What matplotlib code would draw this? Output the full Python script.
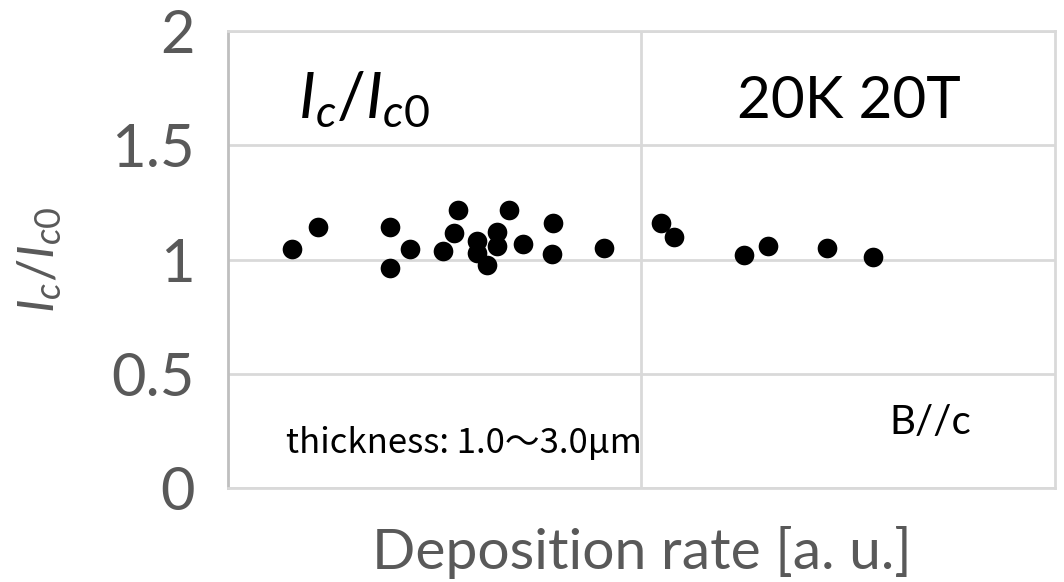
import matplotlib
matplotlib.use("Agg")
import matplotlib.pyplot as plt

# Ic/Ic0 at 20 K, 20 T vs deposition rate
dep_rate = [0.154, 0.217, 0.392, 0.392, 0.440, 0.521, 0.556, 0.547, 0.601, 0.601,
            0.627, 0.650, 0.651, 0.680, 0.713, 0.787, 0.784, 0.909, 1.047, 1.079,
            1.249, 1.307, 1.449, 1.561]
ic_ratio = [1.044, 1.142, 1.142, 0.961, 1.044, 1.039, 1.216, 1.117, 1.080, 1.029,
            0.978, 1.120, 1.057, 1.216, 1.069, 1.158, 1.026, 1.051, 1.158, 1.100,
            1.018, 1.058, 1.051, 1.012]
y_ticks = [0, 0.5, 1, 1.5, 2]
y_ticklabels = ["0", "0.5", "1", "1.5", "2"]

plt.rcParams['font.family'] = ['Lato', 'DejaVu Sans']
plt.rcParams['mathtext.fontset'] = 'custom'
plt.rcParams['mathtext.rm'] = 'Lato'
plt.rcParams['mathtext.it'] = 'Lato:italic'

grid_col = '#d9d9d9'
text_gray = '#595959'

fig = plt.figure(figsize=(10.64, 5.82), dpi=100)
ax = fig.add_axes([0.2143, 0.1615, 0.7772, 0.7852])

ax.scatter(dep_rate, ic_ratio, s=200, color='black', zorder=3, linewidths=0)

ax.set_xlim(0, 2)
ax.set_ylim(0, 2)
ax.set_xticks([1])
ax.set_xticklabels([])
ax.set_yticks(y_ticks)
ax.set_yticklabels(y_ticklabels, fontsize=43, color=text_gray)
ax.tick_params(axis='both', length=0)
ax.tick_params(axis='y', pad=24)
ax.grid(True, color=grid_col, linewidth=2)
for sp in ax.spines.values():
    sp.set_color(grid_col)
    sp.set_linewidth(2)
ax.spines['left'].set_color('#bfbfbf')

ax.set_xlabel('Deposition rate [a. u.]', fontsize=41, color=text_gray, labelpad=24)
ax.set_ylabel(r'$I_c/I_{c0}$', fontsize=37, color=text_gray, labelpad=34)

ax.text(0.17, 1.62, r'$I_c/I_{c0}$', fontsize=46, ha='left', va='baseline')
ax.text(1.23, 1.62, '20K 20T', fontsize=42, ha='left', va='baseline')
ax.text(0.14, 0.155, 'thickness: 1.0～3.0μm', fontsize=25, ha='left', va='baseline',
        family=['Noto Sans CJK JP', 'DejaVu Sans'])
ax.text(1.60, 0.235, 'B//c', fontsize=29, ha='left', va='baseline')

fig.savefig('out.png', dpi=100)
